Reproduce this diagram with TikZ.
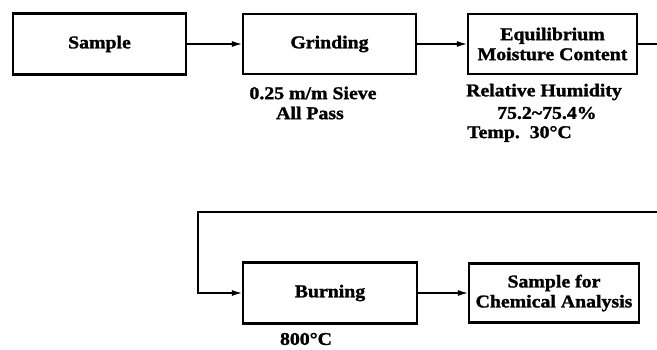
\documentclass[tikz,border=0pt]{standalone}
\usepackage{fontspec}
\setmainfont[FakeStretch=1.1,FakeBold=1.5]{Liberation Serif}
\usetikzlibrary{arrows.meta}
\begin{document}
\begin{tikzpicture}[x=1pt,y=-1pt,
  box/.style={draw,line width=2.2pt,inner sep=0pt,align=center,
    font=\fontsize{18}{20}\selectfont\bfseries},
  lab/.style={inner sep=0pt,font=\fontsize{18}{20}\selectfont\bfseries},
  conn/.style={line width=1.2pt,-{Latex[length=10pt,width=6pt]}},
  plain/.style={line width=1.2pt}]
\useasboundingbox (0,0) rectangle (657,349);
\node[box,minimum width=173pt,minimum height=61pt] (sample) at (99.5,44) {Sample};
\node[box,minimum width=173pt,minimum height=60pt] (grind) at (329.5,44) {Grinding};
\node[box,minimum width=169pt,minimum height=60pt] (equil) at (552.5,44) {Equilibrium\\Moisture Content};
\node[box,minimum width=174pt,minimum height=61pt] (burn) at (330,293) {Burning};
\node[box,minimum width=170pt,minimum height=59pt] (chem) at (554,293) {Sample for\\Chemical Analysis};
\node[lab] (g1) at (313,93) {0.25 m/m Sieve};
\node[lab] (g2) at (310,113) {All Pass};
\node[lab,anchor=west] (e1) at (466,92) {Relative Humidity};
\node[lab,anchor=west] (e2) at (497,113) {75.2\textasciitilde75.4\%};
\node[lab,anchor=west] (e3) at (467,134) {Temp.\ \ 30°C};
\node[lab] (b1) at (306,339) {800°C};
\coordinate (r1) at (657,44);
\coordinate (r2) at (657,212);
\coordinate (c1) at (198,212);
\draw[conn] (sample) -- (grind);
\draw[conn] (grind) -- (equil);
\draw[plain] (equil.east) -- (r1);
\draw[conn] (r2) -- (c1) |- (burn.west);
\draw[conn] (burn) -- (chem);
\end{tikzpicture}
\end{document}
